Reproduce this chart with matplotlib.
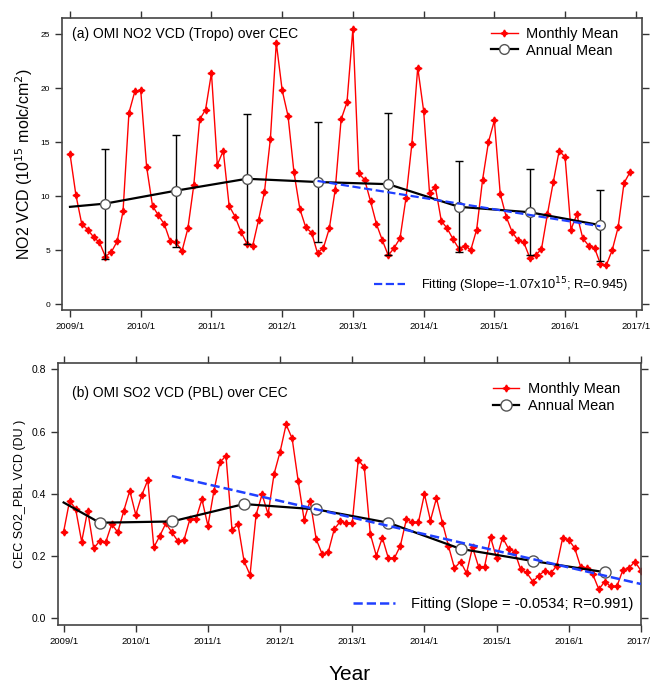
import numpy as np
import matplotlib
matplotlib.use("Agg")
import matplotlib.pyplot as plt

plt.rcParams['font.family'] = ['Liberation Sans', 'DejaVu Sans']

# monthly NO2 (10^15 molc/cm2), 2009/1 - 2016/12
no2_monthly = [
    13.9, 10.1, 7.4, 6.9, 6.2, 5.7, 4.4, 4.8, 5.8, 8.6, 17.7, 19.7,
    19.8, 12.7, 9.1, 8.2, 7.4, 5.8, 5.7, 4.9, 7.0, 11.0, 17.1, 18.0,
    21.4, 12.9, 14.2, 9.1, 8.1, 6.7, 5.6, 5.4, 7.8, 10.4, 15.3, 24.2,
    19.8, 17.4, 12.2, 8.8, 7.1, 6.6, 4.7, 5.2, 7.0, 10.6, 17.1, 18.7,
    25.5, 12.1, 11.5, 9.5, 7.4, 5.9, 4.5, 5.2, 6.1, 9.8, 14.8, 21.9,
    17.9, 10.3, 10.8, 7.7, 7.0, 6.0, 5.1, 5.4, 5.0, 6.9, 11.5, 15.0,
    17.0, 10.2, 8.1, 6.7, 5.9, 5.7, 4.3, 4.5, 5.1, 8.3, 11.3, 14.2,
    13.6, 6.9, 8.3, 6.1, 5.4, 5.2, 3.7, 3.6, 5.0, 7.1, 11.2, 12.2,
]
# annual mean line (first point = start of 2009, no marker)
no2_annual_x = [2009.0, 2009.5, 2010.5, 2011.5, 2012.5, 2013.5, 2014.5, 2015.5, 2016.5]
no2_annual = [9.0, 9.3, 10.5, 11.6, 11.3, 11.1, 9.0, 8.5, 7.3]
no2_std = [5.1, 5.2, 6.0, 5.6, 6.6, 4.2, 4.0, 3.3]
no2_fit_x = [2012.5, 2016.5]
no2_fit_y = [11.4, 7.2]

# monthly SO2 PBL (DU), 2009/1 - 2017/1
so2_monthly = [
    0.278, 0.378, 0.351, 0.246, 0.346, 0.225, 0.248, 0.244, 0.303, 0.276, 0.345, 0.410,
    0.332, 0.396, 0.444, 0.228, 0.265, 0.305, 0.276, 0.248, 0.250, 0.319, 0.319, 0.382,
    0.297, 0.410, 0.501, 0.522, 0.284, 0.302, 0.184, 0.139, 0.332, 0.398, 0.335, 0.464,
    0.535, 0.623, 0.578, 0.442, 0.316, 0.378, 0.254, 0.206, 0.212, 0.286, 0.311, 0.305,
    0.307, 0.509, 0.485, 0.271, 0.201, 0.259, 0.193, 0.193, 0.233, 0.318, 0.308, 0.308,
    0.399, 0.314, 0.386, 0.307, 0.232, 0.161, 0.182, 0.145, 0.228, 0.166, 0.166, 0.260,
    0.193, 0.259, 0.223, 0.214, 0.157, 0.147, 0.118, 0.136, 0.153, 0.145, 0.168, 0.259,
    0.252, 0.225, 0.164, 0.161, 0.141, 0.093, 0.118, 0.102, 0.102, 0.155, 0.161, 0.182,
    0.153,
]
so2_annual_x = [2009.0, 2009.5, 2010.5, 2011.5, 2012.5, 2013.5, 2014.5, 2015.5, 2016.5]
so2_annual = [0.372, 0.307, 0.311, 0.367, 0.350, 0.307, 0.223, 0.184, 0.148]
so2_fit_x = [2010.5, 2017.0]
so2_fit_y = [0.457, 0.110]

year_ticks = list(range(2009, 2018))
year_labels = [f"{y}/1" for y in year_ticks]

no2_x = 2009 + np.arange(len(no2_monthly)) / 12.0
so2_x = 2009 + np.arange(len(so2_monthly)) / 12.0

star = (4, 1, 0)

fig = plt.figure(figsize=(6.5, 6.89), dpi=100)
ax1 = fig.add_axes([0.0954, 0.550, 0.892, 0.424])
ax2 = fig.add_axes([0.089, 0.093, 0.897, 0.380])


def style_axis(ax):
    ax.set_xticks(year_ticks)
    ax.set_xticklabels(year_labels, fontsize=6.8)
    ax.tick_params(direction='out', length=5, width=1, top=True, right=True,
                   labeltop=False, labelright=False, color='#333333')
    for s in ax.spines.values():
        s.set_color('#444444')
        s.set_linewidth(1.2)


# (a) NO2
l1, = ax1.plot(no2_x, no2_monthly, color='red', lw=1, marker=star, ms=5,
               label='Monthly Mean')
ax1.errorbar(no2_annual_x[1:], no2_annual[1:], yerr=no2_std, fmt='none',
             ecolor='black', elinewidth=1, capsize=3, capthick=1)
l2, = ax1.plot(no2_annual_x, no2_annual, color='black', lw=1.6, marker='o',
               ms=7, mfc='white', mec='#555555', markevery=list(range(1, 9)),
               label='Annual Mean', zorder=4)
l3, = ax1.plot(no2_fit_x, no2_fit_y, color='#2040ff', lw=1.6, ls='--', zorder=5,
               label='Fitting (Slope=-1.07x10$^{15}$; R=0.945)')
ax1.set_xlim(2008.887, 2017.085)
ax1.set_ylim(-0.56, 26.5)
ax1.set_yticks([0, 5, 10, 15, 20, 25])
style_axis(ax1)
ax1.set_yticklabels(['0', '5', '10', '15', '20', '25'], fontsize=6)
ax1.set_ylabel('NO2 VCD (10$^{15}$ molc/cm$^{2}$)', fontsize=11.5)
ax1.text(0.017, 0.945, '(a) OMI NO2 VCD (Tropo) over CEC', transform=ax1.transAxes,
         fontsize=10, va='center')
leg = ax1.legend(handles=[l1, l2], loc='upper right', bbox_to_anchor=(0.97, 0.99),
                 frameon=False, fontsize=10.5, handlelength=1.8, handletextpad=0.6,
                 borderaxespad=0, labelspacing=0.2)
ax1.add_artist(leg)
ax1.legend(handles=[l3], loc='lower right', bbox_to_anchor=(0.985, 0.035),
           frameon=False, fontsize=9.3, handlelength=2.4, handletextpad=1.2,
           borderaxespad=0)

# (b) SO2
m1, = ax2.plot(so2_x, so2_monthly, color='red', lw=1, marker=star, ms=5,
               label='Monthly Mean')
m2, = ax2.plot(so2_annual_x, so2_annual, color='black', lw=1.6, marker='o',
               ms=8, mfc='white', mec='#555555', markevery=list(range(1, 9)),
               label='Annual Mean', zorder=4)
m3, = ax2.plot(so2_fit_x, so2_fit_y, color='#2040ff', lw=1.8, ls='--', zorder=5,
               label='Fitting (Slope = -0.0534; R=0.991)')
ax2.set_xlim(2008.92, 2017.0)
ax2.set_ylim(-0.0215, 0.82)
ax2.set_yticks([0.0, 0.2, 0.4, 0.6, 0.8])
style_axis(ax2)
ax2.set_yticklabels(['0.0', '0.2', '0.4', '0.6', '0.8'], fontsize=7.5)
ax2.set_ylabel('CEC SO2_PBL VCD (DU )', fontsize=9)
ax2.text(0.024, 0.885, '(b) OMI SO2 VCD (PBL) over CEC', transform=ax2.transAxes,
         fontsize=10, va='center')
leg = ax2.legend(handles=[m1, m2], loc='upper right', bbox_to_anchor=(0.975, 0.95),
                 frameon=False, fontsize=10.5, handlelength=1.8, handletextpad=0.6,
                 borderaxespad=0, labelspacing=0.2)
ax2.add_artist(leg)
ax2.legend(handles=[m3], loc='lower right', bbox_to_anchor=(0.997, 0.03),
           frameon=False, fontsize=10.5, handlelength=2.9, handletextpad=1.1,
           borderaxespad=0)
ax2.set_xlabel('Year', fontsize=15, labelpad=14)

fig.savefig('out.png', dpi=100)
